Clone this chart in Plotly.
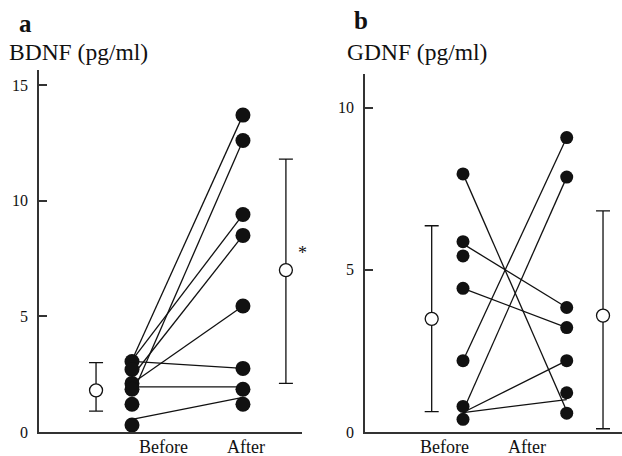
import plotly.graph_objects as go

# ---------------- data ----------------
group_labels = ["Before", "After"]

# BDNF (panel a)
bdnf_before = [3.05, 2.7, 2.1, 1.85, 1.2, 0.3]
bdnf_after = [13.7, 12.6, 9.4, 8.5, 5.45, 2.75, 1.85, 1.2]
bdnf_line_from = [3.1, 3.1, 2.4, 1.6, 2.1, 3.05, 1.95, 0.55]
bdnf_line_to = [13.7, 9.4, 8.5, 12.6, 5.45, 2.75, 1.95, 1.5]
bdnf_mean = [1.8, 7.0]
bdnf_upper = [3.0, 11.8]
bdnf_lower = [0.9, 2.1]
bdnf_ticks = [0, 5, 10, 15]

# GDNF (panel b)
gdnf_before = [7.96, 5.87, 5.43, 4.43, 2.2, 0.79, 0.39]
gdnf_after = [9.08, 7.86, 3.84, 3.22, 2.2, 1.21, 0.58]
gdnf_line_from = [7.96, 5.8, 4.43, 2.2, 0.65, 0.6, 0.6]
gdnf_line_to = [0.65, 3.84, 3.22, 9.08, 7.86, 2.2, 1.0]
gdnf_mean = [3.49, 3.59]
gdnf_upper = [6.36, 6.82]
gdnf_lower = [0.63, 0.1]
gdnf_ticks = [0, 5, 10]

# ---------------- layout constants ----------------
FONT = "Liberation Serif"
INK = "#111111"
AXC = "#333333"
W, H = 622, 456

panels = [
    dict(before=bdnf_before, after=bdnf_after, lf=bdnf_line_from, lt=bdnf_line_to,
         mean=bdnf_mean, up=bdnf_upper, lo=bdnf_lower, ticks=bdnf_ticks,
         mean_x=[0.676, 2.387], label_x=[1.284, 2.027], xr=[0.162, 2.532],
         yr=[0, 15.65], dom_x=[39 / W, 302 / W], dom_y=[(H - 432) / H, (H - 70) / H],
         dot=15, ax="x", ay="y"),
    dict(before=gdnf_before, after=gdnf_after, lf=gdnf_line_from, lt=gdnf_line_to,
         mean=gdnf_mean, up=gdnf_upper, lo=gdnf_lower, ticks=gdnf_ticks,
         mean_x=[0.698, 2.35], label_x=[0.826, 1.617], xr=[0.055, 2.533],
         yr=[0, 11.04], dom_x=[365 / W, 1.0], dom_y=[(H - 432) / H, (H - 74) / H],
         dot=13, ax="x2", ay="y2"),
]

fig = go.Figure()

for p in panels:
    # connecting lines
    lx, ly = [], []
    for a, b in zip(p["lf"], p["lt"]):
        lx += [1, 2, None]
        ly += [a, b, None]
    fig.add_trace(go.Scatter(x=lx, y=ly, mode="lines", line=dict(color=INK, width=1.3),
                             xaxis=p["ax"], yaxis=p["ay"], hoverinfo="skip"))
    # individual dots
    fig.add_trace(go.Scatter(x=[1] * len(p["before"]), y=p["before"], mode="markers",
                             marker=dict(size=p["dot"], color=INK), xaxis=p["ax"], yaxis=p["ay"]))
    fig.add_trace(go.Scatter(x=[2] * len(p["after"]), y=p["after"], mode="markers",
                             marker=dict(size=p["dot"], color=INK), xaxis=p["ax"], yaxis=p["ay"]))
    # mean +/- error bars
    fig.add_trace(go.Scatter(
        x=p["mean_x"], y=p["mean"], mode="markers",
        marker=dict(size=13, color="white", line=dict(color=INK, width=1.3)),
        error_y=dict(type="data", symmetric=False,
                     array=[u - m for u, m in zip(p["up"], p["mean"])],
                     arrayminus=[m - l for m, l in zip(p["mean"], p["lo"])],
                     color=INK, thickness=1.3, width=7),
        xaxis=p["ax"], yaxis=p["ay"]))

axis_common = dict(showgrid=False, zeroline=False, showline=True, linecolor=AXC,
                   linewidth=1.6, automargin=False,
                   tickfont=dict(family=FONT, size=16, color=INK))

layout = dict(
    width=W, height=H, margin=dict(l=0, r=0, t=0, b=0, pad=0),
    paper_bgcolor="white", plot_bgcolor="white", showlegend=False,
    font=dict(family=FONT, color=INK),
)
for i, p in enumerate(panels):
    sx = "" if i == 0 else "2"
    layout["xaxis" + sx] = dict(axis_common, domain=p["dom_x"], range=p["xr"],
                                showticklabels=False, ticks="", anchor="y" + sx)
    layout["yaxis" + sx] = dict(axis_common, domain=p["dom_y"], range=p["yr"],
                                tickvals=p["ticks"], ticks="inside", ticklen=8,
                                tickwidth=1.5, tickcolor=AXC, anchor="x" + sx,
                                ticklabelstandoff=6)

fig.update_layout(**layout)

# group labels under each panel
for i, p in enumerate(panels):
    sx = "" if i == 0 else "2"
    for lbl, xv in zip(group_labels, p["label_x"]):
        fig.add_annotation(text=lbl, x=xv, y=(H - 447) / H, xref="x" + sx, yref="paper",
                           xanchor="center", yanchor="middle", showarrow=False,
                           font=dict(family=FONT, size=18, color=INK))

annos = [
    dict(text="<b>a</b>", x=17 / W, y=1 - 24 / H, size=25),
    dict(text="BDNF (pg/ml)", x=7 / W, y=1 - 52 / H, size=23.5),
    dict(text="<b>b</b>", x=352 / W, y=1 - 21 / H, size=25),
    dict(text="GDNF (pg/ml)", x=345 / W, y=1 - 52 / H, size=23.5),
]
for a in annos:
    fig.add_annotation(text=a["text"], x=a["x"], y=a["y"], xref="paper", yref="paper",
                       xanchor="left", yanchor="middle", showarrow=False,
                       font=dict(family=FONT, size=a["size"], color=INK))

# significance asterisk next to the BDNF "after" mean
fig.add_annotation(text="*", x=302 / W, y=7.75, xref="paper", yref="y", showarrow=False,
                   xanchor="center", yanchor="middle",
                   font=dict(family=FONT, size=18, color=INK))

fig.write_html(
    "out.html",
    config={"displayModeBar": False},
    post_script="document.body.style.margin='0';document.body.style.padding='0';"
                "document.body.style.overflow='hidden';",
)
